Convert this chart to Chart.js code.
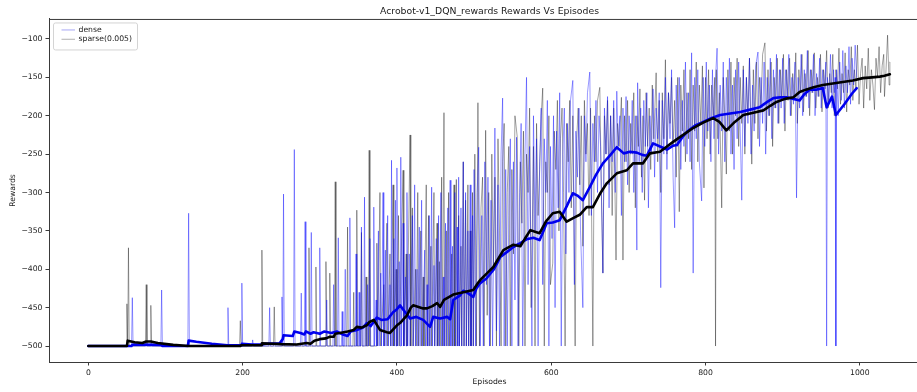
<!DOCTYPE html>
<html>
<head>
<meta charset="utf-8">
<title>Acrobot-v1 DQN rewards</title>
<script src="https://cdn.jsdelivr.net/npm/chart.js@4.4.1/dist/chart.umd.min.js"></script>
<style>
  html, body { margin: 0; padding: 0; background: #fff; overflow: hidden; }
  canvas { display: block; }
</style>
</head>
<body>
<canvas id="rewardsChart" width="930" height="392"></canvas>
<script>
const xTicks = [0, 200, 400, 600, 800, 1000];
const yTicks = [-500, -450, -400, -350, -300, -250, -200, -150, -100];

// per-episode rewards, [episode, reward]
const denseRaw = [
  [0,-500],[56,-500],[57,-437],[58,-500],[94,-500],[95,-427],[96,-500],[129,-500],[130,-327],[131,-500],
  [180,-500],[181,-450],[182,-500],[198,-500],[199,-418],[200,-500],[212,-500],[213,-492],[214,-500],
  [234,-500],[235,-450],[236,-500],[250,-500],[251,-436],[252,-500],[253,-302],[254,-500],[266,-500],
  [267,-244],[268,-500],[275,-500],[276,-431],[277,-500],[280,-500],[281,-338],[282,-500],[288,-500],
  [289,-352],[290,-500],[299,-500],[300,-372],[301,-500],[308,-500],[309,-440],[310,-500],[317,-500],
  [318,-420],[319,-500],[323,-500],[324,-359],[325,-500],[328,-500],[329,-455],[330,-500],[332,-500],
  [333,-400],[334,-500],[338,-500],[339,-333],[340,-500],[346,-500],[347,-380],[348,-500],[350,-500],
  [351,-430],[352,-500],[353,-500],[354,-345],[355,-500],[357,-500],[358,-306],[359,-500],[361,-500],
  [362,-420],[363,-500],[365,-360],[366,-500],[369,-500],[370,-319],[371,-500],[373,-440],[374,-500],
  [376,-350],[377,-500],[379,-405],[380,-500],[382,-300],[383,-500],[385,-375],[386,-500],[388,-330],
  [389,-500],[391,-420],[392,-500],[393,-258],[394,-500],[396,-360],[397,-500],[398,-310],[399,-500],
  [400,-268],[401,-500],[403,-390],[404,-500],[405,-254],[406,-500],[408,-340],[409,-500],[411,-410],
  [412,-500],[413,-300],[414,-500],[416,-380],[417,-500],[420,-330],[421,-500],[423,-290],[424,-500],
  [426,-400],[427,-500],[429,-345],[430,-500],[432,-310],[433,-500],[436,-375],[437,-500],[439,-420],
  [440,-500],[442,-330],[443,-500],[445,-293],[446,-500],[448,-395],[449,-500],[451,-360],[452,-500],
  [454,-330],[455,-500],[457,-300],[458,-500],[460,-410],[461,-500],[463,-340],[464,-500],[466,-320],
  [467,-500],[469,-284],[470,-500],[472,-370],[473,-500],[475,-300],[476,-500],[478,-345],[479,-500],
  [480,-280],[481,-500],[483,-320],[484,-500],[486,-260],[487,-500],[489,-300],[490,-500],[492,-350],
  [493,-500],[495,-290],[496,-500],[498,-330],[499,-500],
  [500,-270],[502,-500],[504,-300],[506,-241],[508,-500],[510,-330],[512,-500],[514,-260],[516,-420],
  [518,-280],[520,-500],[522,-310],[524,-500],[527,-216],[529,-480],[531,-290],[533,-500],[535,-250],
  [537,-177],[539,-500],[541,-270],[543,-500],[545,-330],[547,-230],[549,-500],[551,-260],[553,-440],
  [555,-228],[557,-500],[559,-300],[561,-210],[563,-500],[566,-250],[568,-150],[570,-420],[572,-240],
  [575,-500],[577,-200],[579,-350],[581,-230],[583,-500],[585,-260],[587,-190],[589,-420],[591,-230],
  [593,-300],[595,-180],[597,-500],[599,-240],[601,-360],[603,-200],[605,-450],[607,-220],[609,-320],
  [611,-170],[613,-500],[615,-250],[617,-190],[619,-380],[621,-210],[623,-300],[625,-180],[628,-154],
  [630,-420],[632,-220],[634,-280],[636,-190],[638,-350],[641,-450],[643,-200],[645,-260],[647,-170],
  [650,-143],[652,-330],[654,-210],[656,-260],[658,-180],[660,-300],[662,-200],[664,-240],[667,-405],
  [669,-190],[671,-250],[673,-175],[675,-320],[677,-200],[679,-260],[681,-180],[683,-300],[685,-168],
  [687,-240],[689,-200],[691,-330],[693,-190],[695,-260],[697,-175],[699,-290],[701,-200],[703,-250],
  [705,-180],[707,-300],[709,-200],[711,-375],[712,-157],[714,-260],[716,-190],[718,-300],[720,-180],
  [722,-240],[724,-170],[726,-320],[728,-200],[730,-250],[732,-165],[734,-280],[736,-190],[738,-230],
  [740,-170],[742,-424],[744,-180],[746,-250],[748,-150],[750,-270],[752,-170],[754,-230],[756,-140],
  [758,-280],[760,-346],[762,-160],[764,-240],[766,-150],[768,-270],[770,-180],[772,-240],[774,-130],
  [776,-250],[778,-170],[780,-260],[782,-118],[784,-405],[786,-150],[788,-230],[790,-140],[792,-260],
  [795,-311],[797,-150],[799,-240],[801,-130],[803,-220],[805,-160],[807,-260],[809,-140],[811,-230],
  [813,-150],[815,-112],[817,-250],[819,-160],[821,-220],[823,-130],[825,-260],[827,-150],[829,-220],
  [831,-125],[833,-250],[835,-160],[837,-270],[839,-140],[841,-230],[843,-130],[845,-220],[847,-310],
  [849,-140],[851,-240],[853,-150],[855,-210],[857,-125],[859,-250],[861,-160],[863,-220],[865,-135],
  [868,-117],[870,-240],[872,-150],[874,-210],[876,-130],[878,-250],[880,-150],[882,-200],[884,-125],
  [886,-230],[888,-140],[890,-190],[892,-120],[894,-210],[896,-140],[898,-190],[900,-125],[902,-210],
  [904,-140],[906,-175],[908,-120],[910,-200],[912,-150],[914,-185],[916,-130],[918,-307],[920,-150],
  [922,-190],[924,-120],[926,-200],[928,-140],[930,-175],[932,-115],[934,-190],[936,-140],[938,-170],
  [940,-120],[942,-200],[944,-145],[946,-175],[948,-125],[950,-190],[952,-140],[954,-170],[956,-130],
  [957,-500],[958,-150],[960,-180],[962,-120],[964,-190],[966,-140],[967,-170],[968,-150],[969,-500],
  [970,-140],[972,-200],[974,-130],[976,-180],[978,-115],[980,-190],[982,-135],[984,-170],[986,-110],
  [988,-185],[990,-125],[992,-160],[994,-108],[996,-150]
];

const sparseRaw = [
  [0,-500],[49,-500],[50,-445],[51,-500],[52,-372],[53,-500],[74,-500],[75,-420],[76,-500],[80,-500],
  [81,-447],[82,-500],[196,-500],[197,-467],[198,-500],[224,-500],[225,-375],[226,-500],[240,-500],
  [241,-449],[242,-500],[285,-500],[286,-372],[287,-500],[294,-500],[295,-397],[296,-500],[307,-500],
  [308,-390],[309,-500],[312,-500],[313,-405],[314,-500],[319,-500],[320,-286],[321,-500],[335,-500],
  [336,-345],[337,-500],[343,-500],[344,-430],[345,-500],[347,-500],[348,-323],[349,-500],[353,-500],
  [354,-352],[355,-500],[359,-500],[360,-410],[361,-500],[363,-500],[364,-245],[365,-500],[373,-500],
  [374,-366],[375,-500],[378,-300],[379,-500],[383,-420],[384,-500],[387,-340],[388,-500],[391,-380],
  [392,-500],[395,-290],[396,-500],[399,-400],[400,-500],[402,-330],[403,-500],[408,-271],[409,-500],
  [412,-380],[413,-500],[417,-225],[418,-500],[420,-320],[421,-500],[424,-400],[425,-500],[427,-300],
  [428,-500],[431,-350],[432,-500],[434,-410],[435,-500],[438,-290],[439,-500],[441,-330],[442,-500],
  [444,-370],[445,-500],[448,-300],[449,-500],[452,-340],[453,-500],[455,-390],[456,-500],[458,-280],
  [459,-500],[461,-196],[462,-500],[464,-350],[465,-500],[467,-300],[468,-500],[471,-380],[472,-500],
  [474,-290],[475,-500],[477,-283],[478,-500],[480,-330],[481,-500],[483,-370],[484,-500],[486,-260],
  [487,-500],[489,-310],[490,-500],[492,-290],[493,-500],[495,-350],[496,-500],[498,-300],[499,-500],
  [501,-250],[503,-500],[505,-183],[507,-500],[509,-320],[511,-280],[513,-500],[515,-219],[517,-460],
  [519,-300],[521,-500],[523,-250],[525,-400],[527,-280],[529,-500],[531,-230],[533,-350],[535,-500],
  [537,-260],[539,-210],[541,-500],[543,-300],[545,-240],[547,-500],[549,-270],[551,-380],[553,-200],
  [556,-228],[558,-500],[560,-260],[562,-340],[564,-220],[566,-500],[568,-250],[570,-300],[572,-190],
  [574,-450],[577,-240],[579,-500],[581,-210],[583,-330],[585,-270],[587,-200],[589,-164],[591,-500],
  [593,-260],[595,-300],[597,-200],[599,-420],[602,-392],[604,-220],[606,-270],[608,-180],[610,-350],
  [612,-230],[614,-190],[616,-300],[618,-500],[620,-210],[622,-260],[624,-180],[626,-320],[628,-200],
  [631,-500],[633,-230],[635,-190],[637,-290],[639,-200],[641,-370],[643,-180],[645,-250],[647,-210],
  [649,-330],[651,-190],[654,-500],[656,-200],[658,-260],[660,-180],[663,-163],[665,-300],[667,-405],
  [669,-200],[671,-250],[673,-180],[675,-290],[677,-200],[679,-330],[681,-190],[684,-388],[686,-210],
  [688,-240],[691,-176],[693,-388],[695,-200],[697,-260],[699,-180],[701,-300],[703,-210],[705,-250],
  [707,-170],[709,-320],[711,-200],[713,-240],[715,-165],[717,-280],[719,-200],[721,-310],[723,-170],
  [725,-240],[727,-190],[729,-270],[731,-160],[733,-230],[736,-144],[738,-260],[740,-180],[742,-300],
  [744,-170],[746,-230],[748,-127],[750,-250],[752,-170],[754,-210],[756,-150],[758,-240],[760,-180],
  [762,-280],[764,-150],[766,-325],[768,-160],[770,-220],[772,-140],[774,-260],[776,-170],[778,-230],
  [780,-140],[782,-270],[784,-160],[786,-220],[788,-130],[790,-260],[792,-160],[794,-210],[796,-135],
  [798,-294],[800,-150],[802,-230],[804,-140],[806,-250],[808,-160],[810,-200],[812,-150],[813,-500],
  [814,-140],[816,-230],[818,-170],[821,-320],[823,-150],[825,-200],[827,-276],[829,-140],[831,-220],
  [833,-130],[835,-250],[837,-150],[839,-200],[841,-125],[843,-240],[845,-150],[847,-210],[849,-135],
  [851,-250],[853,-150],[855,-200],[857,-125],[860,-263],[862,-140],[864,-210],[866,-130],[868,-230],
  [870,-150],[872,-190],[874,-120],[877,-105],[879,-220],[881,-140],[883,-200],[885,-130],[887,-240],
  [889,-150],[891,-190],[893,-125],[895,-210],[897,-140],[899,-180],[901,-120],[903,-220],[905,-140],
  [907,-180],[909,-125],[911,-200],[913,-145],[915,-175],[917,-118],[919,-210],[921,-140],[923,-170],
  [925,-120],[927,-195],[929,-145],[931,-175],[933,-115],[935,-200],[937,-140],[939,-170],[941,-118],
  [943,-190],[945,-150],[947,-175],[949,-120],[951,-195],[953,-140],[955,-165],[957,-115],[959,-190],
  [961,-145],[963,-170],[965,-120],[967,-200],[969,-140],[971,-165],[973,-112],[975,-185],[977,-145],
  [979,-170],[981,-118],[983,-195],[985,-140],[987,-160],[989,-110],[991,-180],[993,-140],[995,-165],
  [997,-108],[999,-185],[1001,-145],[1003,-125],[1005,-190],[1007,-135],[1009,-165],[1011,-112],
  [1013,-180],[1015,-140],[1017,-160],[1019,-192],[1021,-125],[1023,-150],[1025,-110],[1027,-170],
  [1029,-135],[1031,-120],[1032,-175],[1034,-140],[1036,-95],[1038,-160],[1039,-130]
];

// running averages
const denseAvg = [
  [0,-500],[56,-500],[57,-498.5],[60,-498],[94,-498.5],[96,-500],[129,-500],[130,-493],[140,-494.5],
  [160,-497],[180,-499],[198,-499],[199,-497],[212,-498],[225,-498],[230,-497],[248,-496.5],[252,-491],
  [253,-486],[265,-487],[267,-481],[275,-483],[280,-485],[282,-481],[288,-484],[292,-482],[300,-484],
  [306,-481],[315,-483],[322,-481],[330,-485],[336,-487],[340,-481],[348,-479],[356,-476],[361,-470],
  [366,-474],[374,-463],[380,-466],[388,-465],[395,-456],[400,-452],[404,-447],[410,-455],[417,-464],
  [425,-462],[434,-466],[443,-475],[447,-462],[456,-464],[465,-462],[469,-465],[473,-440],[482,-434],
  [486,-428],[492,-431],[499,-436],[503,-425],[508,-418],[516,-412],[525,-401],[530,-392],[534,-384],
  [542,-378],[551,-371],[556,-368],[560,-366],[568,-361],[577,-359],[585,-362],[590,-350],[594,-340],
  [602,-339],[611,-336],[620,-318],[628,-301],[634,-304],[641,-310],[650,-293],[658,-277],[667,-262],
  [676,-252],[685,-241],[694,-249],[702,-247],[711,-248],[718,-251],[724,-252],[732,-236],[741,-240],
  [750,-244],[758,-239],[763,-238],[770,-228],[776,-221],[786,-213],[797,-208],[808,-203],[819,-199],
  [832,-197],[845,-195],[858,-192],[870,-189],[880,-182],[888,-177],[897,-176],[905,-176],[914,-178],
  [922,-180],[928,-172],[935,-166],[943,-166],[952,-164],[957,-189],[964,-175],[969,-199],[980,-185],
  [990,-171],[996,-164]
];

const sparseAvg = [
  [0,-500],[50,-500],[51,-493],[60,-495],[70,-496],[75,-494],[81,-494],[90,-496],[110,-498.5],
  [130,-500],[197,-500],[198,-499],[224,-499],[225,-496.5],[241,-497],[250,-497.5],[270,-498],
  [283,-496],[288,-497],[293,-493],[300,-491],[308,-490],[313,-488],[318,-488],[320,-484],[326,-483],
  [336,-481],[344,-479],[348,-475],[354,-476],[361,-473],[364,-469],[370,-466],[378,-479],[387,-482],
  [391,-483],[400,-473],[404,-470],[413,-460],[418,-450],[421,-447],[434,-451],[439,-451],[446,-448],
  [452,-444],[456,-449],[461,-440],[473,-433],[486,-430],[499,-427],[505,-418],[508,-414],[517,-405],
  [525,-397],[531,-387],[538,-375],[551,-368],[560,-370],[566,-360],[573,-349],[579,-351],[585,-353],
  [593,-338],[602,-327],[611,-325],[620,-338],[629,-333],[637,-329],[646,-319],[654,-319],[663,-302],
  [672,-288],[685,-275],[698,-271],[706,-262],[719,-262],[728,-249],[741,-247],[750,-240],[758,-234],
  [771,-225],[784,-216],[797,-209],[810,-203],[818,-208],[827,-219],[838,-208],[849,-199],[862,-196],
  [875,-193],[884,-187],[892,-182],[903,-178],[914,-176],[922,-169],[930,-166],[940,-163],[952,-160],
  [965,-158],[978,-156],[991,-154],[1004,-151],[1016,-150],[1026,-149],[1032,-148],[1039,-146]
];

const toPoints = rows => rows.map(([x, y]) => ({ x, y }));

const FONT = 'DejaVu Sans';
const spineColor = '#3a3a3a';
const textColor = '#1a1a1a';

// top spine + matplotlib-style key box
const frameAndKey = {
  id: 'frameAndKey',
  afterDraw(chart) {
    const { ctx, chartArea: area } = chart;
    ctx.save();
    ctx.strokeStyle = spineColor;
    ctx.lineWidth = 1;
    ctx.beginPath();
    ctx.moveTo(area.left, area.top + 0.5);
    ctx.lineTo(area.right, area.top + 0.5);
    ctx.stroke();

    const entries = chart.data.datasets.filter(d => d.inKey);
    const bx = area.left + 4, by = area.top + 3.5, bw = 84, bh = 27;
    ctx.beginPath();
    ctx.roundRect(bx + 0.5, by + 0.5, bw, bh, 2);
    ctx.fillStyle = 'rgba(255,255,255,0.85)';
    ctx.fill();
    ctx.strokeStyle = '#d4d4d4';
    ctx.stroke();

    ctx.font = '7.7px "' + FONT + '"';
    ctx.textBaseline = 'middle';
    ctx.fillStyle = textColor;
    entries.forEach((d, i) => {
      const y = by + 7.5 + i * 9.3;
      ctx.strokeStyle = d.keyColor;
      ctx.lineWidth = 1;
      ctx.beginPath();
      ctx.moveTo(bx + 8.5, y);
      ctx.lineTo(bx + 22, y);
      ctx.stroke();
      ctx.fillText(d.label, bx + 25.5, y);
    });
    ctx.restore();
  }
};

new Chart(document.getElementById('rewardsChart').getContext('2d'), {
  type: 'line',
  data: {
    datasets: [
      { label: 'dense', data: toPoints(denseRaw), borderColor: 'rgba(0,0,255,0.4)',
        keyColor: '#a8a8f4', borderWidth: 1, order: 2, inKey: true },
      { label: 'sparse(0.005)', data: toPoints(sparseRaw), borderColor: 'rgba(0,0,0,0.36)',
        keyColor: '#b0b0b0', borderWidth: 1, order: 3, inKey: true },
      { label: 'dense avg', data: toPoints(denseAvg), borderColor: '#0000ee',
        borderWidth: 2.6, order: 1 },
      { label: 'sparse avg', data: toPoints(sparseAvg), borderColor: '#000000',
        borderWidth: 2.6, order: 0 }
    ]
  },
  options: {
    responsive: false,
    animation: false,
    parsing: false,
    normalized: true,
    elements: {
      point: { radius: 0, hoverRadius: 0 },
      line: { tension: 0, borderJoinStyle: 'round', borderCapStyle: 'round' }
    },
    layout: { padding: 0 },
    plugins: {
      legend: { display: false },
      tooltip: { enabled: false },
      title: {
        display: true,
        fullSize: false,
        text: 'Acrobot-v1_DQN_rewards Rewards Vs Episodes',
        color: textColor,
        font: { family: FONT, size: 9.3, weight: 'normal' },
        padding: { top: 5.8, bottom: 2.0 }
      }
    },
    scales: {
      x: {
        type: 'linear',
        min: -51,
        max: 1091,
        afterFit(scale) { scale.height = 30; },
        afterBuildTicks(scale) { scale.ticks = xTicks.map(value => ({ value })); },
        grid: { drawOnChartArea: false, drawTicks: true, tickLength: 3.5, color: spineColor },
        border: { display: true, color: spineColor, width: 1 },
        ticks: { color: textColor, padding: 2.5, maxRotation: 0,
                 font: { family: FONT, size: 7.7 },
                 callback: v => String(v) },
        title: { display: true, text: 'Episodes', color: textColor,
                 font: { family: FONT, size: 7.7 }, padding: { top: 0, bottom: 5.4 } }
      },
      y: {
        min: -520.8,
        max: -73.9,
        afterFit(scale) { scale.width = 49; },
        afterBuildTicks(scale) { scale.ticks = yTicks.map(value => ({ value })); },
        grid: { drawOnChartArea: false, drawTicks: true, tickLength: 3.5, color: spineColor },
        border: { display: true, color: spineColor, width: 1 },
        ticks: { color: textColor, padding: 3,
                 font: { family: FONT, size: 7.7 },
                 callback: v => String(v).replace('-', '\u2212') },
        title: { display: true, text: 'Rewards', color: textColor,
                 font: { family: FONT, size: 7.7 }, padding: { top: 8.4, bottom: 0 } }
      }
    }
  },
  plugins: [frameAndKey]
});
</script>
</body>
</html>
